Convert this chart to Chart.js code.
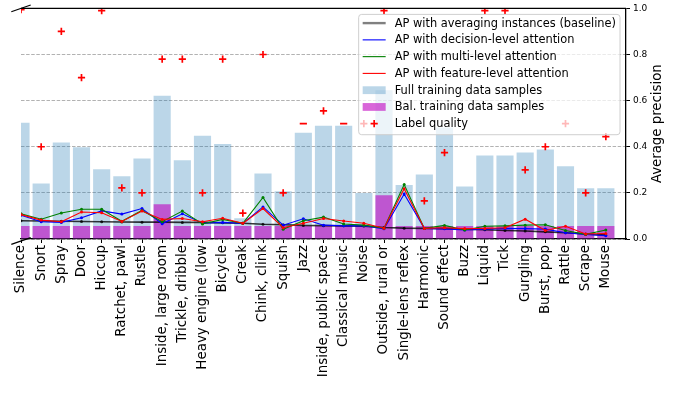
<!DOCTYPE html>
<html>
<head>
<meta charset="utf-8">
<script src="https://cdn.jsdelivr.net/npm/chart.js@4.4.1/dist/chart.umd.min.js"></script>
<style>
  html, body { margin: 0; padding: 0; background: #fff; }
  canvas { display: block; }
</style>
</head>
<body>
<canvas id="chart" width="686" height="401"></canvas>
<script>
// Sound classes, ordered by baseline average precision
const categories = [
  'Silence', 'Snort', 'Spray', 'Door', 'Hiccup', 'Ratchet, pawl', 'Rustle',
  'Inside, large room', 'Trickle, dribble', 'Heavy engine (low', 'Bicycle', 'Creak',
  'Chink, clink', 'Squish', 'Jazz', 'Inside, public space', 'Classical music', 'Noise',
  'Outside, rural or', 'Single-lens reflex', 'Harmonic', 'Sound effect', 'Buzz',
  'Liquid', 'Tick', 'Gurgling', 'Burst, pop', 'Rattle', 'Scrape', 'Mouse'
];

// Relative amount of training data per class
const fullSamples = [
  0.504, 0.241, 0.418, 0.398, 0.302, 0.272, 0.349, 0.621, 0.341, 0.448,
  0.412, 0.090, 0.284, 0.207, 0.461, 0.491, 0.491, 0.200, 0.645, 0.234,
  0.280, 0.483, 0.228, 0.362, 0.362, 0.375, 0.388, 0.315, 0.220, 0.220
];
const balSamples = [
  0.056, 0.056, 0.056, 0.056, 0.056, 0.056, 0.056, 0.151, 0.056, 0.056,
  0.056, 0.056, 0.056, 0.056, 0.056, 0.056, 0.056, 0.056, 0.190, 0.056,
  0.056, 0.056, 0.056, 0.056, 0.056, 0.056, 0.056, 0.056, 0.056, 0.056
];

// Average precision per model
const apBaseline = [
  0.079, 0.078, 0.077, 0.076, 0.075, 0.074, 0.073, 0.073, 0.072, 0.072,
  0.070, 0.068, 0.064, 0.062, 0.059, 0.058, 0.057, 0.056, 0.050, 0.047,
  0.046, 0.045, 0.042, 0.040, 0.037, 0.035, 0.031, 0.027, 0.022, 0.017
];
const apDecision = [
  0.103, 0.075, 0.072, 0.092, 0.122, 0.108, 0.132, 0.066, 0.109, 0.068,
  0.072, 0.068, 0.139, 0.060, 0.088, 0.060, 0.057, 0.058, 0.044, 0.195,
  0.046, 0.044, 0.039, 0.043, 0.046, 0.045, 0.043, 0.027, 0.020, 0.014
];
const apMulti = [
  0.109, 0.086, 0.113, 0.129, 0.129, 0.077, 0.124, 0.075, 0.121, 0.065,
  0.085, 0.068, 0.180, 0.042, 0.079, 0.095, 0.065, 0.060, 0.047, 0.236,
  0.046, 0.059, 0.039, 0.055, 0.057, 0.060, 0.062, 0.037, 0.020, 0.039
];
const apFeature = [
  0.106, 0.082, 0.075, 0.117, 0.114, 0.076, 0.121, 0.085, 0.089, 0.075,
  0.090, 0.068, 0.132, 0.049, 0.068, 0.089, 0.078, 0.068, 0.047, 0.218,
  0.046, 0.049, 0.045, 0.046, 0.049, 0.086, 0.037, 0.055, 0.022, 0.024
];

// Label quality per class (null where not rated)
const labelQuality = [
  0.995, 0.40, 0.90, 0.70, 0.99, 0.222, 0.20, 0.78, 0.78, 0.20,
  0.78, 0.112, 0.80, 0.20, 0.50, 0.556, 0.50, 0.50, 0.99, null,
  0.165, 0.375, null, 0.99, 0.99, 0.30, 0.40, 0.50, 0.20, 0.444
];
// Classes whose quality mark is shown as a dash
const dashMarked = ['Jazz', 'Classical music'];

const yTicks = [0, 0.2, 0.4, 0.6, 0.8, 1.0];

const FONT = "'DejaVu Sans', sans-serif";
const toPoints = arr => arr.map((v, i) => ({ x: i, y: v })).filter(p => p.y !== null);

function apLine(label, values, color, width, order, legendOrder, legendColor, legendWidth) {
  return {
    type: 'line',
    label,
    data: toPoints(values),
    borderColor: color,
    backgroundColor: color,
    borderWidth: width,
    pointRadius: 1.5,
    pointBorderWidth: 0,
    pointBackgroundColor: color,
    tension: 0,
    clip: 0,
    order,
    legendOrder,
    legendKind: 'line',
    legendColor: legendColor || color,
    legendWidth: legendWidth || width
  };
}

const qualityPoints = toPoints(labelQuality);

const datasets = [
  {
    type: 'bar',
    label: 'Full training data samples',
    data: toPoints(fullSamples),
    backgroundColor: 'rgba(31,119,180,0.3)',
    borderWidth: 0,
    grouped: false,
    barPercentage: 0.85,
    categoryPercentage: 1.0,
    clip: 0,
    order: 10,
    legendOrder: 4,
    legendKind: 'box',
    legendColor: 'rgba(31,119,180,0.3)'
  },
  {
    type: 'bar',
    label: 'Bal. training data samples',
    data: toPoints(balSamples),
    backgroundColor: 'rgba(191,0,191,0.6)',
    borderWidth: 0,
    grouped: false,
    barPercentage: 0.85,
    categoryPercentage: 1.0,
    clip: 0,
    order: 9,
    legendOrder: 5,
    legendKind: 'box',
    legendColor: 'rgba(191,0,191,0.6)'
  },
  apLine('AP with averaging instances (baseline)', apBaseline, 'rgba(0,0,0,0.78)', 1.6, 5, 0, '#808080', 2.4),
  apLine('AP with decision-level attention', apDecision, '#0000ff', 1.1, 4, 1),
  apLine('AP with multi-level attention', apMulti, '#008000', 1.1, 3, 2),
  apLine('AP with feature-level attention', apFeature, '#ff0000', 1.1, 2, 3),
  {
    type: 'scatter',
    label: 'Label quality',
    data: qualityPoints,
    showLine: false,
    pointStyle: qualityPoints.map(p => dashMarked.includes(categories[p.x]) ? 'line' : 'cross'),
    pointRadius: 3.6,
    pointBorderWidth: 1.7,
    borderColor: '#ff0000',
    backgroundColor: '#ff0000',
    clip: 0,
    order: 1,
    legendOrder: 6,
    legendKind: 'marker',
    legendColor: '#ff0000'
  }
];

// Framed legend inside the plot, top right
const boxLegend = {
  id: 'boxLegend',
  afterDatasetsDraw(chart) {
    const { ctx, chartArea: a } = chart;
    const entries = chart.data.datasets
      .filter(d => d.legendOrder !== undefined)
      .sort((p, q) => p.legendOrder - q.legendOrder);
    ctx.save();
    ctx.font = `11.4px ${FONT}`;
    const textW = Math.max(...entries.map(e => ctx.measureText(e.label).width));
    const rowH = 16.77;
    const w = 36 + textW + 4;
    const h = 8.7 + (entries.length - 1) * rowH + 11;
    const right = a.right - 6;
    const left = right - w;
    const top = a.top + 6;
    ctx.beginPath();
    ctx.roundRect(left, top, w, h, 3);
    ctx.fillStyle = 'rgba(255,255,255,0.72)';
    ctx.fill();
    ctx.strokeStyle = 'rgba(204,204,204,0.95)';
    ctx.lineWidth = 1;
    ctx.stroke();

    entries.forEach((e, i) => {
      const cy = top + 8.7 + i * rowH;
      const hx0 = left + 4, hx1 = left + 27;
      if (e.legendKind === 'line') {
        ctx.strokeStyle = e.legendColor;
        ctx.lineWidth = e.legendWidth;
        ctx.beginPath();
        ctx.moveTo(hx0, cy);
        ctx.lineTo(hx1, cy);
        ctx.stroke();
      } else if (e.legendKind === 'box') {
        ctx.fillStyle = e.legendColor;
        ctx.fillRect(hx0, cy - 3.9, hx1 - hx0, 7.8);
      } else {
        const mx = left + 15.5;
        ctx.strokeStyle = e.legendColor;
        ctx.lineWidth = 1.7;
        ctx.beginPath();
        ctx.moveTo(mx - 3.6, cy); ctx.lineTo(mx + 3.6, cy);
        ctx.moveTo(mx, cy - 3.6); ctx.lineTo(mx, cy + 3.6);
        ctx.stroke();
      }
      ctx.fillStyle = '#000';
      ctx.textAlign = 'left';
      ctx.textBaseline = 'middle';
      ctx.fillText(e.label, left + 36, cy + 0.5);
    });
    ctx.restore();
  }
};

// Top spine, axis-break marks on the left, and the right axis title
const frameExtras = {
  id: 'frameExtras',
  afterDraw(chart) {
    const { ctx, chartArea: a } = chart;
    ctx.save();
    ctx.strokeStyle = '#000';
    ctx.lineWidth = 1.3;
    ctx.beginPath();
    ctx.moveTo(a.left, a.top);
    ctx.lineTo(a.right, a.top);
    ctx.stroke();

    ctx.lineWidth = 1.2;
    [[a.left, a.top], [a.left, a.bottom + 2]].forEach(([cx, cy]) => {
      ctx.beginPath();
      ctx.moveTo(cx - 9.7, cy + 3.4);
      ctx.lineTo(cx + 9.7, cy - 3.4);
      ctx.stroke();
    });

    ctx.translate(a.right + 32, (a.top + a.bottom) / 2);
    ctx.rotate(-Math.PI / 2);
    ctx.fillStyle = '#000';
    ctx.font = `13.3px ${FONT}`;
    ctx.textAlign = 'center';
    ctx.textBaseline = 'middle';
    ctx.fillText('Average precision', 0, 0);
    ctx.restore();
  }
};

new Chart(document.getElementById('chart'), {
  type: 'scatter',
  data: { datasets },
  options: {
    responsive: false,
    animation: false,
    devicePixelRatio: 1,
    layout: { padding: { left: 21, top: 7, right: 0, bottom: 0 } },
    plugins: { legend: { display: false }, tooltip: { enabled: false } },
    scales: {
      x: {
        type: 'linear',
        position: 'bottom',
        min: 0,
        max: categories.length,
        offset: false,
        afterBuildTicks: s => { s.ticks = categories.map((_, i) => ({ value: i })); },
        afterFit: s => { s.height = 162; },
        ticks: {
          autoSkip: false,
          maxRotation: 90,
          minRotation: 90,
          padding: 2,
          color: '#000',
          font: { family: FONT, size: 13.4 },
          callback: v => categories[v] ?? ''
        },
        grid: {
          offset: false,
          drawOnChartArea: false,
          drawTicks: true,
          tickLength: 4,
          tickColor: '#000',
          tickWidth: 1
        },
        border: { display: true, color: '#000', width: 1.3 }
      },
      y: {
        type: 'linear',
        position: 'right',
        min: 0,
        max: 1,
        afterBuildTicks: s => { s.ticks = yTicks.map(v => ({ value: v })); },
        afterFit: s => { s.width = 60; },
        ticks: {
          padding: 3,
          color: '#000',
          font: { family: FONT, size: 9 },
          callback: v => Number(v).toFixed(1)
        },
        grid: {
          color: 'rgba(170,170,170,0.9)',
          lineWidth: 1,
          drawTicks: true,
          tickLength: 4,
          tickColor: '#000',
          tickWidth: 1
        },
        border: { display: true, color: '#000', width: 1.3, dash: [3.5, 1.6] }
      }
    }
  },
  plugins: [boxLegend, frameExtras]
});
</script>
</body>
</html>
